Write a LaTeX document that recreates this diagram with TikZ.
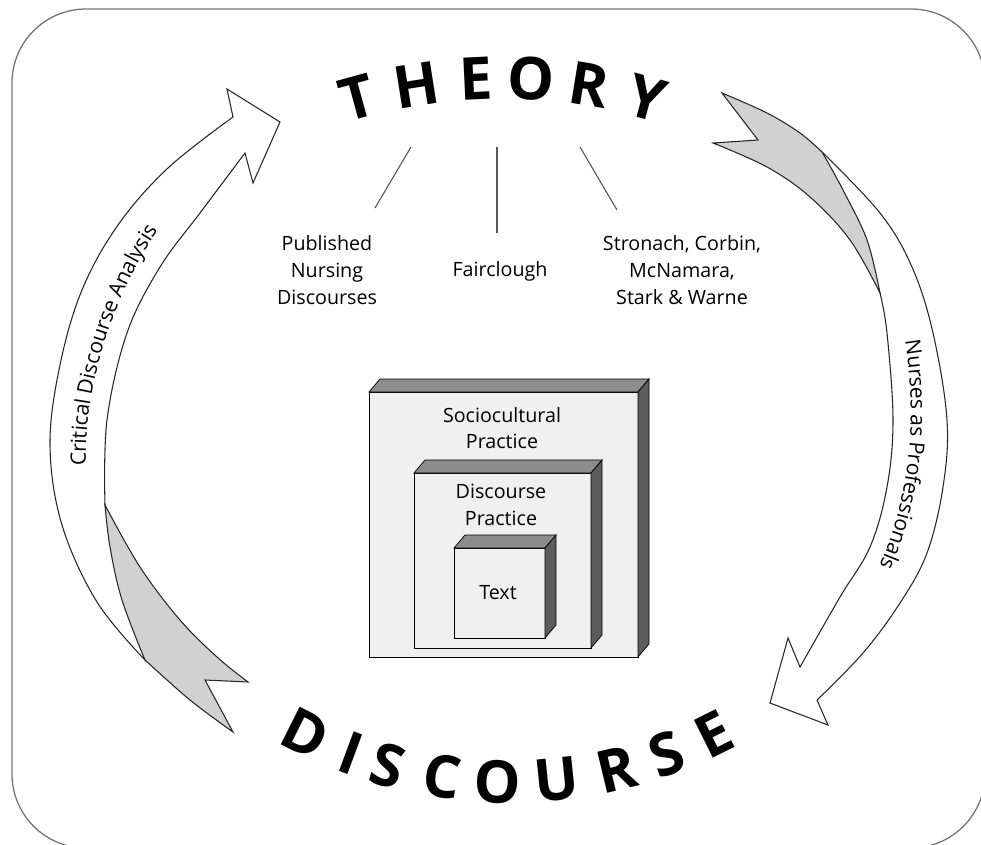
\documentclass[tikz,border=0pt]{standalone}
\usepackage{fontspec}
\setmainfont{Open Sans}
\usetikzlibrary{calc,decorations.text}

\newcommand\ribbontext{\fontsize{15}{18}\selectfont}

\begin{document}
\begin{tikzpicture}[
        x=0.025cm, y=-0.025cm,
        frame/.style={draw=black!55, line width=0.9pt, rounded corners=1.85cm},
        ribbon/.style={draw=black!85, line width=0.75pt, fill=white, line join=miter},
        twist/.style={draw=black!85, line width=0.75pt, fill=black!18, line join=miter},
        bigletter/.style={font=\fontsize{42}{42}\selectfont\bfseries, inner sep=0pt},
        source/.style={align=center, font=\fontsize{14}{19}\selectfont},
        stem/.style={draw=black!65, line width=0.8pt},
        front/.style={draw=black, line width=0.7pt, fill=black!6},
        topface/.style={draw=black, line width=0.5pt, fill=black!45},
        sideface/.style={draw=black, line width=0.5pt, fill=black!64},
        layer/.style={align=center, font=\fontsize{14}{19}\selectfont}
    ]
    \useasboundingbox (0,0) rectangle (981,844);
    \draw[frame] (12,9) rectangle (985,848);

    % THEORY on an arc, centre below
    \coordinate (theory-c) at (502,624);
    \foreach \ch/\a [count=\i] in {T/-15.4, H/-9.0, E/-2.7, O/3.05, R/9.2, Y/15.4}
        \node[bigletter, rotate=-\a] (theory-\i) at ($(theory-c)+({546*sin(\a)},{-546*cos(\a)})$) {\ch};

    % DISCOURSE on an arc, centre above
    \coordinate (discourse-c) at (510,326);
    \foreach \ch/\a [count=\i] in {D/-26.6, I/-20.4, S/-15.5, C/-8.6, O/-1.6, U/5.9, R/13.5, S/20.1, E/26.5}
        \node[bigletter, rotate=\a] (discourse-\i) at ($(discourse-c)+({456*sin(\a)},{456*cos(\a)})$) {\ch};

    % sources under THEORY
    \node[source] (published) at (327,270) {Published\\Nursing\\Discourses};
    \node[source] (fairclough) at (500,271) {Fairclough};
    \node[source] (stronach) at (682,270) {Stronach, Corbin,\\McNamara,\\Stark \& Warne};

    \coordinate (stem1-a) at (411,147); \coordinate (stem1-b) at (375,208);
    \coordinate (stem2-a) at (497,147); \coordinate (stem2-b) at (497,233);
    \coordinate (stem3-a) at (580,147); \coordinate (stem3-b) at (617,210);
    \draw[stem] (stem1-a) -- (stem1-b);
    \draw[stem] (stem2-a) -- (stem2-b);
    \draw[stem] (stem3-a) -- (stem3-b);

    % left ribbon: Critical Discourse Analysis
    \draw[ribbon] plot[smooth, tension=0.6] coordinates {(145,660) (97,602) (62,525) (50,445) (60,365) (82,290) (118,225) (168,168) (233,117)}
        -- (227,89) -- (280,122) -- (253,183) -- (245,153)
        -- plot[smooth, tension=0.6] coordinates {(245,153) (200,213) (160,267) (127,333) (107,420) (105,505)}
        -- cycle;
    \draw[twist] plot[smooth, tension=0.6] coordinates {(105,505) (140,567) (180,620) (217,657) (248,682)}
        -- (205,680) -- (233,732)
        -- plot[smooth, tension=0.6] coordinates {(233,732) (190,700) (145,660)}
        -- plot[smooth, tension=0.6] coordinates {(145,660) (122,600) (110,547) (105,505)} -- cycle;
    \coordinate (cda-a) at (79,466); \coordinate (cda-b) at (222,150);
    \path[decorate, decoration={text along path, text align=left, raise=-5pt,
            text={|\ribbontext|Critical Discourse Analysis}}]
        (cda-a) .. controls (75,350) and (140,210) .. (cda-b);

    % right ribbon: Nurses as Professionals
    \draw[ribbon] plot[smooth, tension=0.6] coordinates {(822,152) (880,213) (912,267) (933,333) (947,420) (943,487) (927,553) (900,603) (863,653) (817,700)}
        -- (828,725) -- (770,703) -- (788,638) -- (800,667)
        -- plot[smooth, tension=0.6] coordinates {(800,667) (840,597) (870,547) (887,487) (893,420) (887,333) (880,293)}
        -- cycle;
    \draw[twist] plot[smooth, tension=0.6] coordinates {(722,93) (767,113) (800,133) (822,152)}
        -- plot[smooth, tension=0.6] coordinates {(822,152) (843,190) (867,240) (880,293)}
        -- plot[smooth, tension=0.6] coordinates {(880,293) (850,240) (810,197) (767,167) (713,143)}
        -- (758,140) -- cycle;
    \coordinate (nap-a) at (912,340); \coordinate (nap-b) at (870,600);
    \path[decorate, decoration={text along path, text align=left, raise=-5pt,
            text={|\ribbontext|Nurses as Professionals}}]
        (nap-a) .. controls (928,440) and (910,530) .. (nap-b);

    % nested practice boxes
    \foreach \n/\xa/\ya/\xb/\yb in {socio/369/392/638/657, disc/414/473/591/648, txt/454/548/545/638} {
        \draw[front] (\xa,\ya) rectangle (\xb,\yb);
        \draw[topface] (\xa,\ya) -- ({\xa+11},{\ya-13}) -- ({\xb+11},{\ya-13}) -- (\xb,\ya) -- cycle;
        \draw[sideface] (\xb,\ya) -- ({\xb+11},{\ya-13}) -- ({\xb+11},{\yb-13}) -- (\xb,\yb) -- cycle;
    }
    \node[layer] (socio) at (502,428) {Sociocultural\\Practice};
    \node[layer] (disc) at (501,505) {Discourse\\Practice};
    \node[layer] (txt) at (498,593) {Text};
\end{tikzpicture}
\end{document}
